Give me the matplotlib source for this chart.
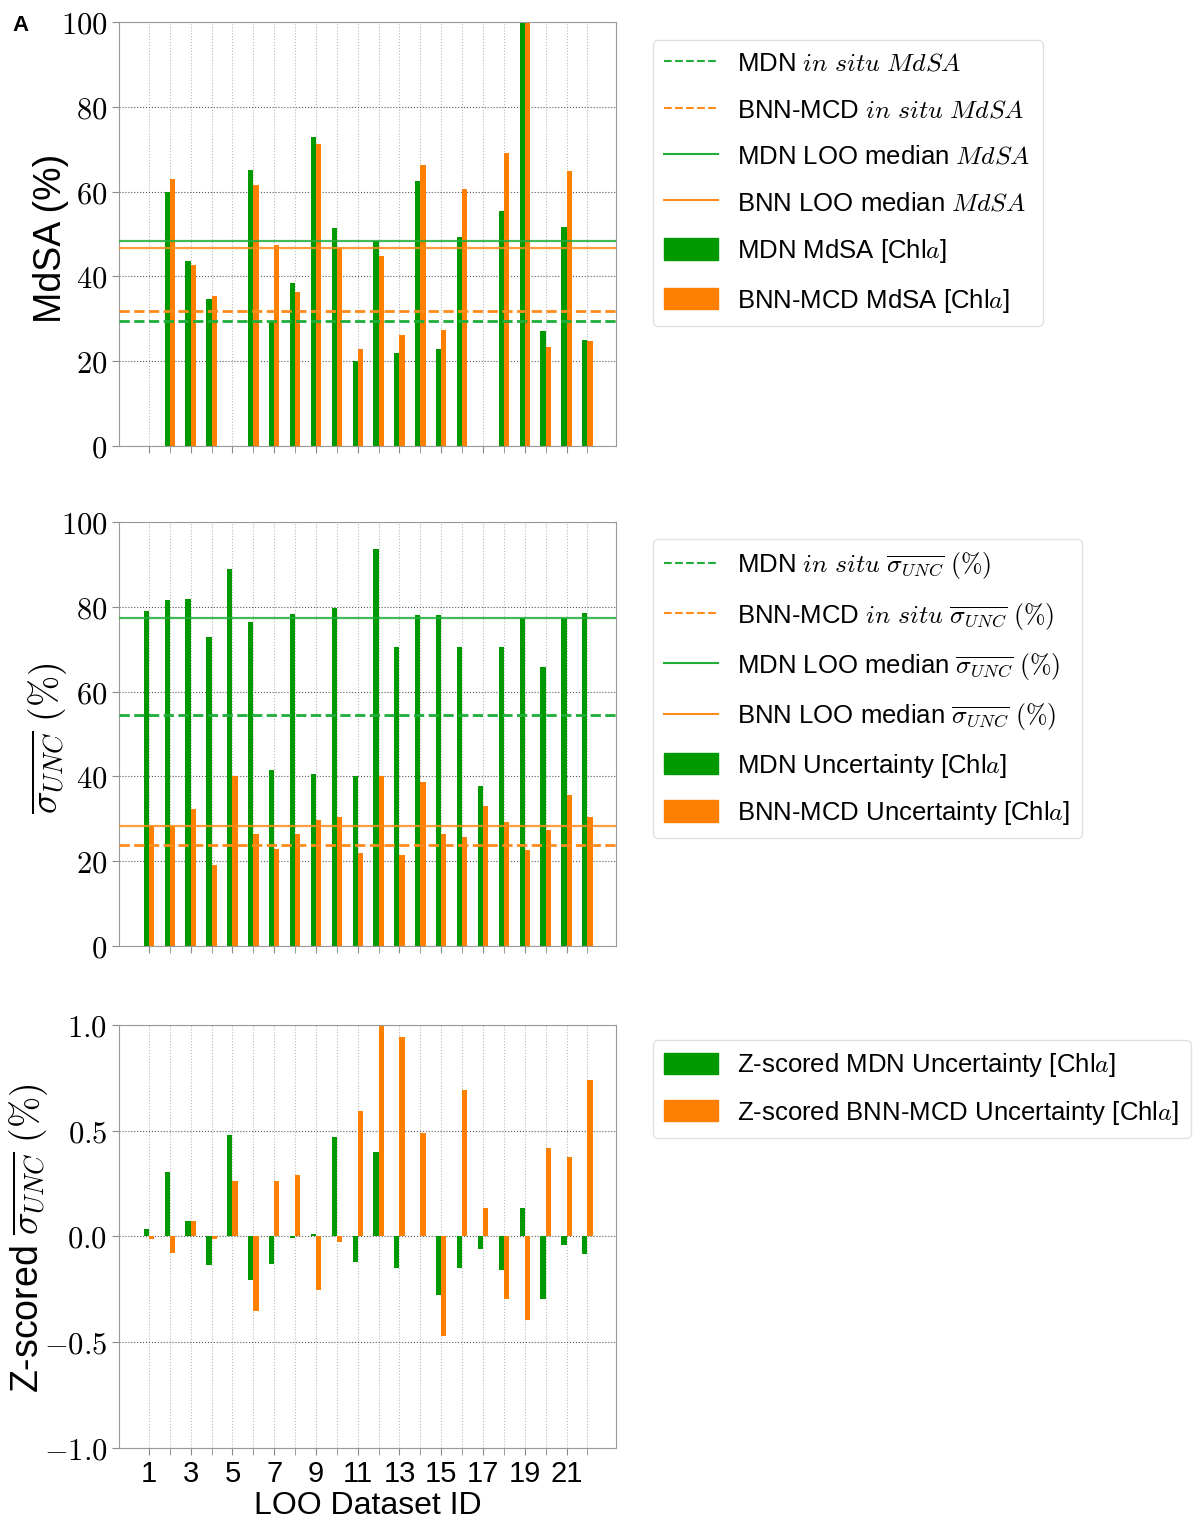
"""Leave-one-out MdSA and uncertainty comparison, MDN vs BNN-MCD."""

import matplotlib

matplotlib.use("Agg")

import matplotlib.pyplot as plt
import numpy as np
from matplotlib.lines import Line2D
from matplotlib.patches import Patch

plt.rcParams["font.family"] = ["Liberation Sans", "DejaVu Sans"]
plt.rcParams["mathtext.fontset"] = "cm"

# LOO dataset ids 1..22
dataset_ids = np.arange(1, 23)
xtick_ids = [1, 3, 5, 7, 9, 11, 13, 15, 17, 19, 21]

# MdSA per held-out dataset (%); datasets 1, 5, 17 have no value
mdn_mdsa = [0.0, 60.0, 43.7, 34.6, 0.0, 65.0, 29.6, 38.4, 72.8, 51.4, 20.0,
            48.3, 22.0, 62.5, 22.8, 49.2, 0.0, 55.5, 100.0, 27.1, 51.6, 25.0]
bnn_mdsa = [0.0, 62.9, 42.8, 35.4, 0.0, 61.5, 47.4, 36.3, 71.3, 46.6, 22.8,
            44.7, 26.1, 66.2, 27.4, 60.5, 0.0, 69.1, 100.0, 23.3, 64.8, 24.7]
mdn_insitu_mdsa = 29.4
bnn_insitu_mdsa = 31.8
mdn_loo_median_mdsa = 48.4
bnn_loo_median_mdsa = 46.6

# mean uncertainty per held-out dataset (%)
mdn_unc = [78.9, 81.7, 81.9, 72.9, 88.8, 76.5, 41.6, 78.3, 40.5, 79.6, 40.2,
           93.6, 70.4, 78.0, 78.0, 70.4, 37.8, 70.4, 77.4, 65.8, 77.4, 78.5]
bnn_unc = [28.2, 28.2, 32.2, 19.2, 40.2, 26.3, 22.9, 26.3, 29.7, 30.4, 21.9,
           40.0, 21.4, 38.6, 26.3, 25.6, 32.9, 29.3, 22.6, 27.4, 35.5, 30.4]
mdn_insitu_unc = 54.5
bnn_insitu_unc = 23.8
mdn_loo_median_unc = 77.4
bnn_loo_median_unc = 28.3

# z-scored mean uncertainty
mdn_z = [0.033, 0.307, 0.071, -0.135, 0.478, -0.204, -0.129, -0.006, 0.013,
         0.472, -0.123, 0.400, -0.148, 0.0, -0.275, -0.149, -0.060, -0.157,
         0.134, -0.297, -0.041, -0.082]
bnn_z = [-0.014, -0.079, 0.074, -0.013, 0.263, -0.354, 0.264, 0.291, -0.252,
         -0.028, 0.594, 1.0, 0.942, 0.489, -0.472, 0.692, 0.134, -0.297,
         -0.393, 0.418, 0.377, 0.742]

pct_ticks = [0, 20, 40, 60, 80, 100]
pct_ticklabels = ["$0$", "$20$", "$40$", "$60$", "$80$", "$100$"]
z_ticks = [-1.0, -0.5, 0.0, 0.5, 1.0]
z_ticklabels = ["$-1.0$", "$-0.5$", "$0.0$", "$0.5$", "$1.0$"]

GREEN = "#009a00"
ORANGE = "#ff7f00"
GREEN_LINE = "#1fae3a"
ORANGE_LINE = "#ff8c1a"
BAR_W = 0.25
LEGEND_X = 1.074

fig = plt.figure(figsize=(12, 15.28), dpi=100)
left, width, height = 0.0992, 0.414, 0.2775
ax_top = fig.add_axes([left, 0.7081, width, height])
ax_mid = fig.add_axes([left, 0.3809, width, height])
ax_bot = fig.add_axes([left, 0.0524, width, 0.2768])


def style_axis(ax, yticks, yticklabels, ylim, show_xlabels):
    ax.set_xlim(-0.43, 23.36)
    ax.set_ylim(*ylim)
    ax.set_yticks(yticks)
    ax.set_yticklabels(yticklabels, fontsize=22)
    ax.set_xticks(xtick_ids)
    ax.set_xticks(dataset_ids, minor=True)
    if show_xlabels:
        ax.set_xticklabels([str(i) for i in xtick_ids], fontsize=21)
    else:
        ax.set_xticklabels([])
    ax.tick_params(which="both", direction="out", length=5, color="0.55")
    ax.grid(True, axis="y", which="major", linestyle=":", color="0.35",
            linewidth=0.8)
    ax.grid(True, axis="x", which="both", linestyle=":", color="0.72",
            linewidth=0.8)
    ax.set_axisbelow(True)
    for spine in ax.spines.values():
        spine.set_color("0.6")


def draw_bars(ax, green_vals, orange_vals):
    ax.bar(dataset_ids - BAR_W / 2, green_vals, BAR_W, color=GREEN, zorder=2)
    ax.bar(dataset_ids + BAR_W / 2, orange_vals, BAR_W, color=ORANGE, zorder=2)


def add_legend(ax, labels, n_lines, top, spacing):
    handles = []
    styles = [(GREEN_LINE, "--"), (ORANGE_LINE, "--"),
              (GREEN_LINE, "-"), (ORANGE_LINE, "-")]
    for color, ls in styles[:n_lines]:
        handles.append(Line2D([], [], color=color, linestyle=ls, linewidth=1.5))
    handles.append(Patch(color=GREEN))
    handles.append(Patch(color=ORANGE))
    ax.legend(handles, labels, loc="upper left", bbox_to_anchor=(LEGEND_X, top),
              fontsize=18.5, frameon=True, fancybox=True, edgecolor="0.85",
              handlelength=2.1, handleheight=0.9, labelspacing=spacing,
              borderpad=0.45, handletextpad=0.75, borderaxespad=0)


# MdSA panel
draw_bars(ax_top, mdn_mdsa, bnn_mdsa)
ax_top.axhline(mdn_insitu_mdsa, color=GREEN_LINE, linestyle="--", lw=2, zorder=3)
ax_top.axhline(bnn_insitu_mdsa, color=ORANGE_LINE, linestyle="--", lw=2, zorder=3)
ax_top.axhline(mdn_loo_median_mdsa, color=GREEN_LINE, lw=1.6, alpha=0.85, zorder=3)
ax_top.axhline(bnn_loo_median_mdsa, color=ORANGE_LINE, lw=1.6, alpha=0.85, zorder=3)
style_axis(ax_top, pct_ticks, pct_ticklabels, (0, 100), False)
ax_top.set_ylabel("MdSA (%)", fontsize=27)
ax_top.yaxis.set_label_coords(-0.10, 0.49)
add_legend(ax_top, [
    r"MDN $in\ situ\ MdSA$",
    r"BNN-MCD $in\ situ\ MdSA$",
    r"MDN LOO median $MdSA$",
    r"BNN LOO median $MdSA$",
    r"MDN MdSA [Chl$a$]",
    r"BNN-MCD MdSA [Chl$a$]",
], 4, 0.958, 0.85)
fig.text(0.01, 0.983, "A", fontsize=16, fontweight="bold", va="center")

# mean uncertainty panel
draw_bars(ax_mid, mdn_unc, bnn_unc)
ax_mid.axhline(mdn_insitu_unc, color=GREEN_LINE, linestyle="--", lw=2, zorder=3)
ax_mid.axhline(bnn_insitu_unc, color=ORANGE_LINE, linestyle="--", lw=2, zorder=3)
ax_mid.axhline(mdn_loo_median_unc, color=GREEN_LINE, lw=1.6, alpha=0.85, zorder=3)
ax_mid.axhline(bnn_loo_median_unc, color=ORANGE_LINE, lw=1.6, alpha=0.85, zorder=3)
style_axis(ax_mid, pct_ticks, pct_ticklabels, (0, 100), False)
ax_mid.set_ylabel(r"$\overline{\sigma_{UNC}}\ (\%)$", fontsize=27)
ax_mid.yaxis.set_label_coords(-0.10, 0.49)
add_legend(ax_mid, [
    r"MDN $in\ situ\ \overline{\sigma_{UNC}}\ (\%)$",
    r"BNN-MCD $in\ situ\ \overline{\sigma_{UNC}}\ (\%)$",
    r"MDN LOO median $\overline{\sigma_{UNC}}\ (\%)$",
    r"BNN LOO median $\overline{\sigma_{UNC}}\ (\%)$",
    r"MDN Uncertainty [Chl$a$]",
    r"BNN-MCD Uncertainty [Chl$a$]",
], 4, 0.96, 0.75)

# z-scored uncertainty panel
draw_bars(ax_bot, mdn_z, bnn_z)
style_axis(ax_bot, z_ticks, z_ticklabels, (-1.0, 1.0), True)
ax_bot.set_ylabel(r"Z-scored $\overline{\sigma_{UNC}}\ (\%)$", fontsize=27)
ax_bot.yaxis.set_label_coords(-0.139, 0.495)
ax_bot.set_xlabel("LOO Dataset ID", fontsize=23, labelpad=2)
add_legend(ax_bot, [
    r"Z-scored MDN Uncertainty [Chl$a$]",
    r"Z-scored BNN-MCD Uncertainty [Chl$a$]",
], 0, 0.965, 0.75)

fig.savefig("out.png", dpi=100)
plt.close(fig)
